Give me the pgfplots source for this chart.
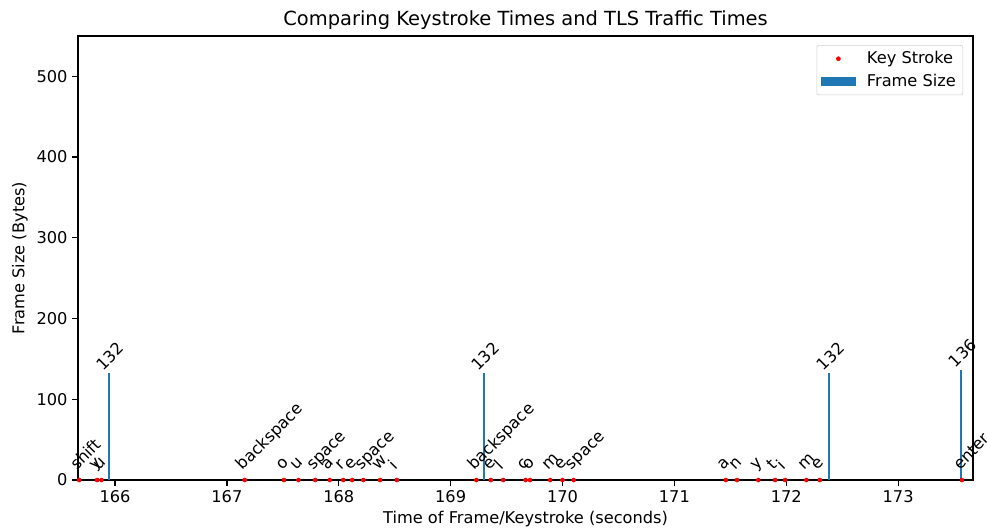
\documentclass[border=0pt]{standalone}
\usepackage{pgfplots}
\usepackage{pgfplotstable}
\pgfplotsset{compat=1.18}
\usepackage{fontspec}
\setmainfont{DejaVu Sans}
\definecolor{mplblue}{HTML}{1F77B4}
\newcommand{\lblfont}{\fontsize{11.67}{14}\selectfont}

% keystroke times (s) and the key pressed
\pgfplotstableread{
t key
165.68 shift
165.84 y
165.88 u
167.16 backspace
167.51 o
167.64 u
167.79 space
167.92 a
168.04 r
168.12 e
168.22 space
168.37 w
168.52 i
169.23 backspace
169.36 e
169.47 l
169.67 c
169.71 o
169.89 m
170.00 e
170.10 space
171.46 a
171.56 n
171.75 y
171.90 t
171.99 i
172.18 m
172.30 e
173.57 enter
}\keystrokes

% TLS frame times (s) and sizes (bytes)
\pgfplotstableread{
t size
165.946 132
169.300 132
172.385 132
173.565 136
}\frames

\begin{document}
\begin{tikzpicture}
\useasboundingbox (-56.2pt,-35.3pt) rectangle (654.4pt,345.6pt);
\begin{axis}[
  at={(0,0)}, anchor=south west,
  scale only axis, width=644.4pt, height=319.7pt,
  xmin=165.67, xmax=173.67, ymin=0, ymax=550,
  xtick={166,...,173}, ytick={0,100,...,500},
  tick align=outside, tick pos=left, major tick length=4.1pt,
  tick style={black, line width=0.93pt},
  axis line style={line width=0.93pt},
  /pgf/number format/assume math mode=true,
  /pgf/number format/1000 sep={},
  ticklabel style={font=\lblfont},
  every axis title shift=0pt,
  title={Comparing Keystroke Times and TLS Traffic Times},
  title style={font=\fontsize{14}{16}\selectfont, at={(axis description cs:0.5,1)}, anchor=base, yshift=7.2pt},
  xlabel={Time of Frame/Keystroke (seconds)},
  ylabel={Frame Size (Bytes)},
  label style={font=\lblfont},
  xlabel style={at={(axis description cs:0.5,-0.0876)}, anchor=center},
  ylabel style={at={(axis description cs:-0.065,0.5)}, anchor=center},
  clip=false,
  reverse legend,
  legend cell align=left,
  legend style={at={(1,1)}, anchor=north east, xshift=-7.2pt, yshift=-6.5pt,
    draw=black!20, rounded corners=1.5pt, font=\lblfont,
    inner xsep=3pt, inner ysep=2.5pt, row sep=2pt,
    /tikz/every odd column/.append style={column sep=6pt}},
]
\addplot[ycomb, mplblue, line width=1.3pt,
  nodes near coords, point meta=y,
  nodes near coords style={black, font=\lblfont, inner sep=0pt,
    xshift=-4.5pt, yshift=1pt, rotate=45, anchor=base west},
  legend image code/.code={\fill[mplblue, sharp corners] (0pt,-2.9pt) rectangle (23.8pt,2.9pt);}]
  table[x=t, y=size] {\frames};
\addlegendentry{Frame Size}

\addplot[only marks, mark=*, mark size=1.45pt, mark options={draw=red, fill=red},
  nodes near coords, point meta=explicit symbolic,
  nodes near coords style={black, font=\lblfont, inner sep=0pt,
    xshift=-1.5pt, yshift=6.5pt, rotate=45, anchor=base west},
  legend image code/.code={\draw[mark=*, mark size=1.45pt, draw=red, fill=red] plot coordinates {(11.9pt,0pt)};}]
  table[x=t, y expr=0, meta=key] {\keystrokes};
\addlegendentry{Key Stroke}
\end{axis}
\end{tikzpicture}
\end{document}
